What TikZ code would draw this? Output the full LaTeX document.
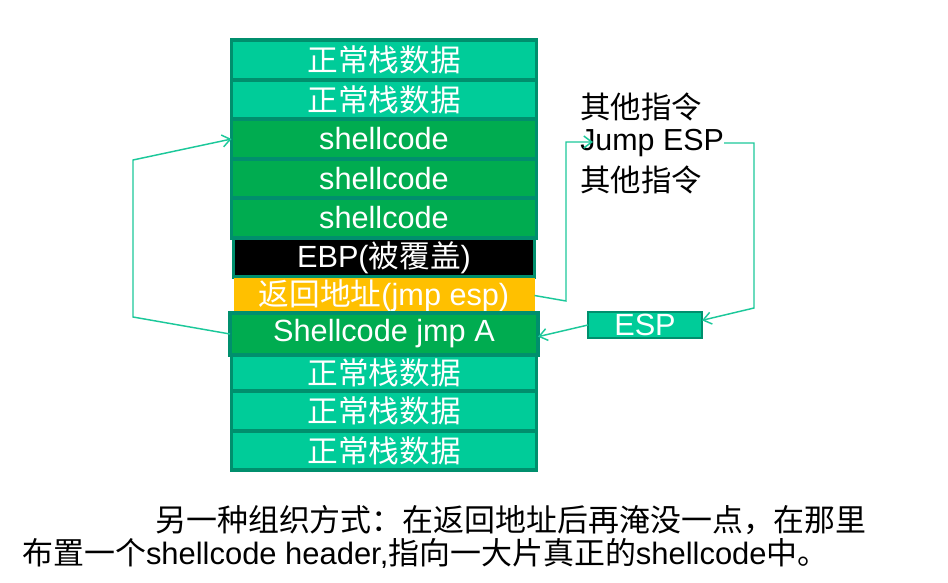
\documentclass[tikz,border=0pt]{standalone}
\usepackage{fontspec}
\setmainfont{Liberation Sans}
\newfontfamily\cjk{Noto Sans CJK SC}
\newcommand\zh[1]{{\cjk #1}}
\usetikzlibrary{arrows.meta}
\definecolor{cellteal}{HTML}{00CC99}
\definecolor{cellborder}{HTML}{008F6D}
\definecolor{shellgreen}{HTML}{00AC50}
\definecolor{retorange}{HTML}{FFC000}
\definecolor{arrowteal}{HTML}{1CC89A}
\tikzset{
  cell/.style={draw=cellborder, line width=2.4pt, text=white, inner sep=0pt, outer sep=0pt,
    minimum width=305*0.75pt, font=\fontsize{23}{27}\selectfont},
  normal/.style={cell, fill=cellteal},
  shell/.style={cell, fill=shellgreen},
  conn/.style={draw=arrowteal, line width=1.1pt, -{Straight Barb[length=6pt,width=9pt]}},
  side/.style={anchor=west, inner sep=0pt, font=\fontsize{22.8}{27}\selectfont},
  caption/.style={anchor=west, inner sep=0pt, font=\fontsize{23.2}{28}\selectfont}
}
\begin{document}
\begin{tikzpicture}[x=0.75pt,y=-0.75pt]
\useasboundingbox (0,0) rectangle (948,582);
% stack cells
\node[normal, minimum height=40*0.75pt] (n1) at (384,60) {\zh{正常栈数据}};
\node[normal, minimum height=39*0.75pt] (n2) at (384,99.5) {\zh{正常栈数据}};
\node[shell, minimum height=40*0.75pt] (s1) at (384,139) {shellcode};
\node[shell, minimum height=39*0.75pt] (s2) at (384,178.5) {shellcode};
\node[shell, minimum height=40*0.75pt] (s3) at (384,218) {shellcode};
\node[cell, fill=black, minimum height=39*0.75pt, minimum width=301*0.75pt] (ebp) at (384,257.5) {EBP(\zh{被覆盖})};
\node[cell, fill=retorange, draw=none, minimum height=35*0.75pt, minimum width=301*0.75pt] (ret) at (384,295.5) {\zh{返回地址}(jmp esp)};
\node[shell, minimum height=42*0.75pt, minimum width=308*0.75pt] (jmpA) at (384,334) {Shellcode jmp A};
\node[normal, minimum height=36*0.75pt] (n3) at (384,373) {\zh{正常栈数据}};
\node[normal, minimum height=40*0.75pt] (n4) at (384,411) {\zh{正常栈数据}};
\node[normal, minimum height=39*0.75pt] (n5) at (384,450.5) {\zh{正常栈数据}};
% right side instructions
\node[side] (o1) at (580,107) {\zh{其他指令}};
\node[side] (jesp) at (580,143) {Jump ESP};
\node[side] (o2) at (580,180) {\zh{其他指令}};
\node[cell, fill=cellteal, minimum width=114*0.75pt, minimum height=26*0.75pt, line width=1.8pt,
  font=\fontsize{23}{25}\selectfont] (esp) at (645,325) {ESP};
% connectors
\coordinate (jtip) at (593,142);
\draw[conn] (jmpA.west) -- (133,317) -- (133,160) -- (s1.west);
\draw[conn] (ret.east) -- (566,301) -- (566,142) -- (jtip);
\draw[conn] (jesp.east) -- (754,143) -- (754,308) -- ([yshift=3.5pt]esp.east);
\draw[conn] (esp.west) -- ([yshift=-2pt]jmpA.east);
% caption
\node[caption] (c1) at (155,520) {\zh{另一种组织方式：在返回地址后再淹没一点，在那里}};
\node[caption] (c2) at (22,553) {\zh{布置一个}shellcode header,\zh{指向一大片真正的}shellcode\zh{中。}};
\end{tikzpicture}
\end{document}
